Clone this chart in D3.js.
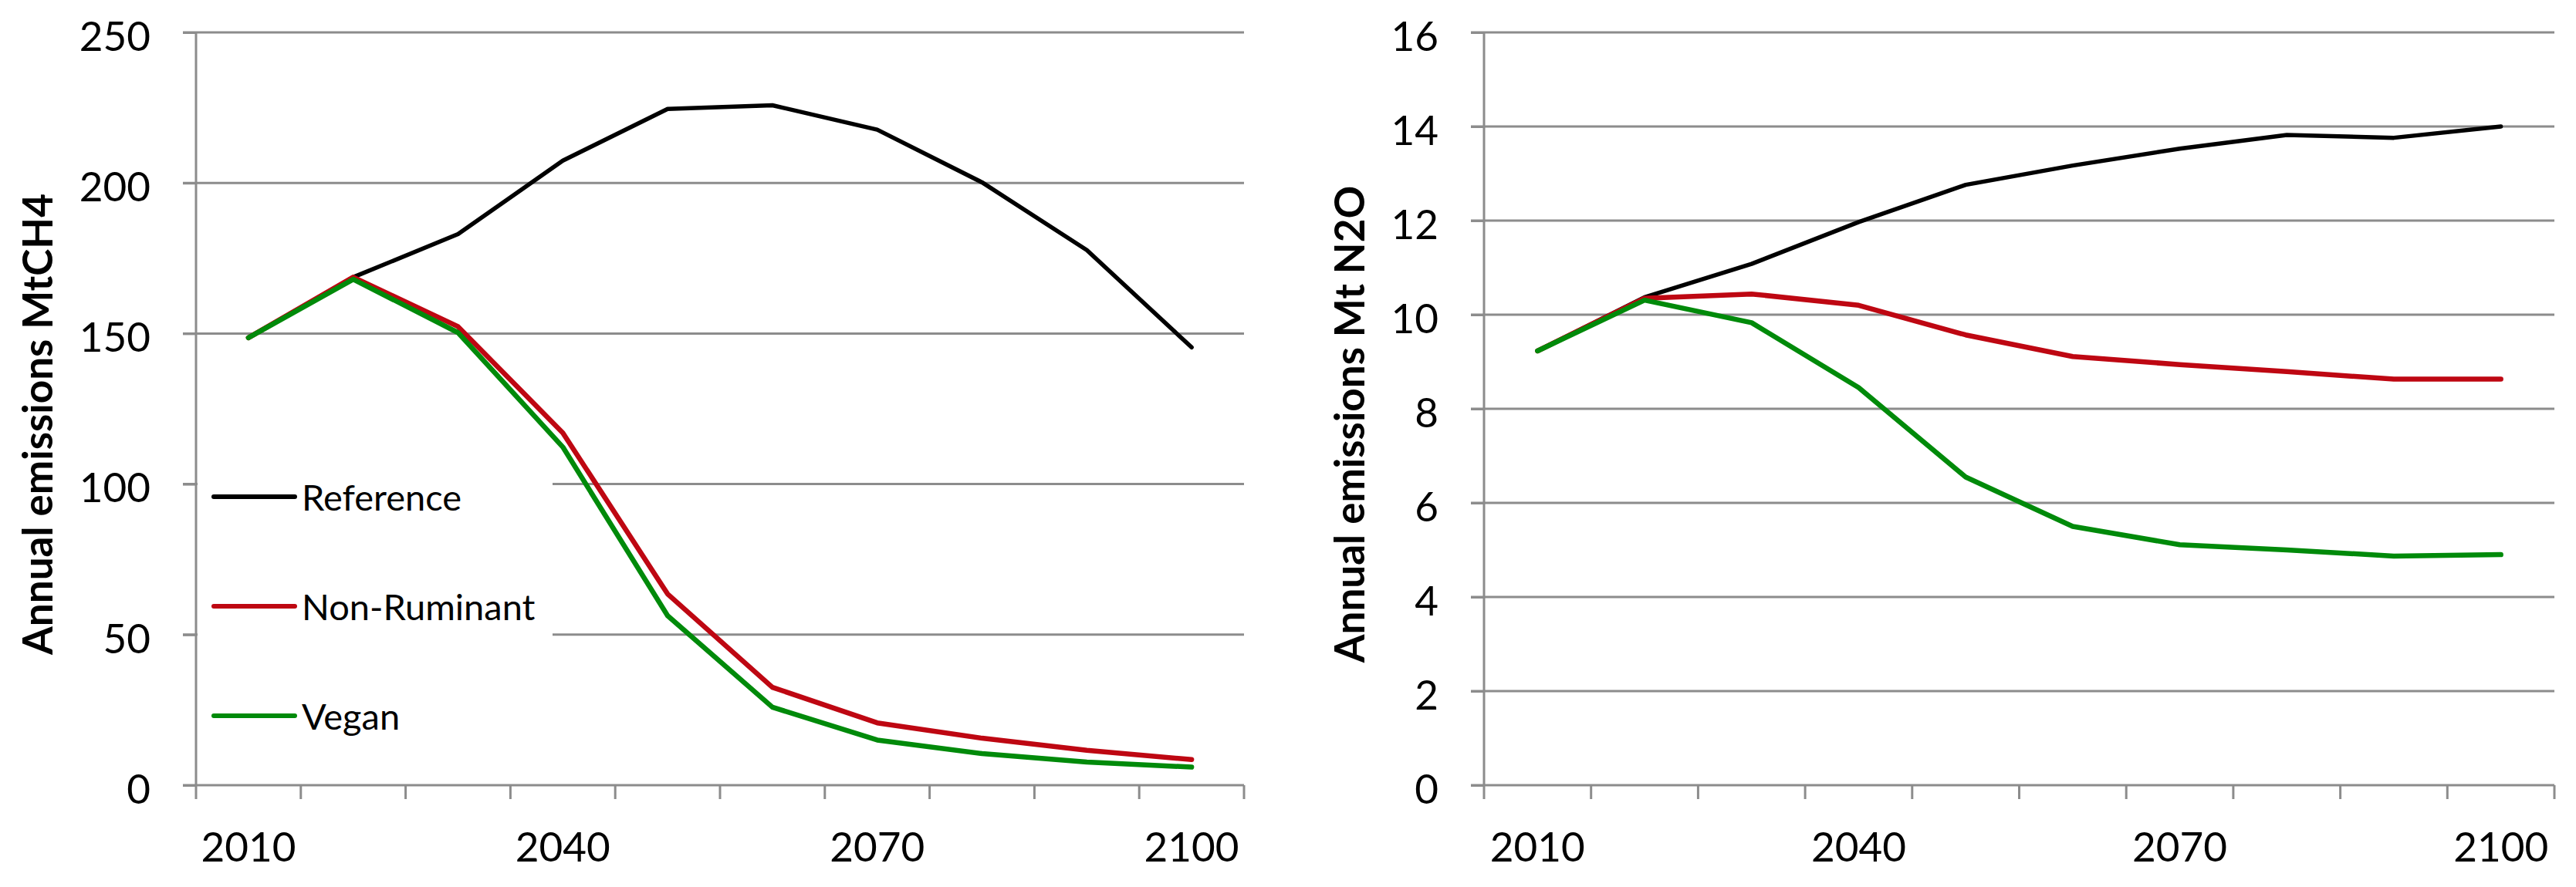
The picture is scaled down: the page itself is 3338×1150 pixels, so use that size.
<!DOCTYPE html>
<html>
<head>
<meta charset="utf-8">
<script src="https://cdn.jsdelivr.net/npm/d3@7"></script>
<style>
  body { margin: 0; background: #fff; }
  svg text { font-family: Lato, "Open Sans", sans-serif; fill: #000; }
  .domain { display: none; }
</style>
</head>
<body>
<div id="chart"></div>
<script>
var W = 3338,
    H = 1150;

// data
var years = [2010, 2020, 2030, 2040, 2050, 2060, 2070, 2080, 2090, 2100];
var yearLabels = [2010, 2040, 2070, 2100];
var seriesNames = ["Reference", "Non-Ruminant", "Vegan"];
var seriesColors = ["#000000", "#be0712", "#008a0a"];

var ch4Reference   = [148.6, 168.7, 183.0, 207.4, 224.6, 225.8, 217.7, 200.2, 177.7, 145.4];
var ch4NonRuminant = [148.6, 168.7, 152.3, 117.0, 63.5, 32.5, 20.7, 15.6, 11.6, 8.5];
var ch4Vegan       = [148.6, 168.0, 150.3, 112.3, 56.3, 25.9, 15.0, 10.5, 7.7, 6.0];
var ch4Ticks = [0, 50, 100, 150, 200, 250];

var n2oReference   = [9.23, 10.37, 11.08, 11.97, 12.76, 13.17, 13.53, 13.82, 13.76, 14.0];
var n2oNonRuminant = [9.23, 10.35, 10.44, 10.20, 9.57, 9.11, 8.94, 8.79, 8.63, 8.63];
var n2oVegan       = [9.23, 10.31, 9.83, 8.45, 6.55, 5.50, 5.11, 5.00, 4.87, 4.90];
var n2oTicks = [0, 2, 4, 6, 8, 10, 12, 14, 16];

var gridColor = "#8c8c8c";

var svg = d3.select("#chart")
    .append("svg")
    .attr("width", W)
    .attr("height", H);

function drawPanel(opt) {
    var g = svg.append("g");

    var x = d3.scaleBand().domain(years).range([opt.x0, opt.x1]).padding(0),
        y = d3.scaleLinear().domain([0, opt.max]).range([opt.y0, opt.y1]);

    // gridlines, running from the tick mark across the plot
    g.append("g").selectAll("line")
        .data(opt.ticks.filter(function (d) { return d > 0; }))
        .enter()
        .append("line")
        .attr("x1", opt.x0 - 17)
        .attr("x2", opt.x1)
        .attr("y1", function (d) { return y(d); })
        .attr("y2", function (d) { return y(d); })
        .style("stroke", gridColor)
        .style("stroke-width", 3);

    // white legend box hides the gridlines (left panel only)
    if (opt.legend) opt.legend(g);

    // y axis
    var yAxis = d3.axisLeft(y).tickValues(opt.ticks).tickSize(17).tickPadding(42);
    var ya = g.append("g")
        .attr("transform", "translate(" + opt.x0 + ",0)")
        .call(yAxis);
    ya.selectAll(".tick line").style("stroke", gridColor).style("stroke-width", 3);
    ya.selectAll(".tick text").attr("dy", "0.44em").style("font-size", "53px");
    g.append("line")
        .attr("x1", opt.x0).attr("x2", opt.x0)
        .attr("y1", opt.y1).attr("y2", opt.y0)
        .style("stroke", gridColor).style("stroke-width", 3);

    // x axis: baseline plus ticks at the band edges
    g.append("line")
        .attr("x1", opt.x0 - 17).attr("x2", opt.x1)
        .attr("y1", opt.y0).attr("y2", opt.y0)
        .style("stroke", gridColor).style("stroke-width", 3);
    g.append("g").selectAll("line")
        .data(years.concat(["end"]))
        .enter()
        .append("line")
        .attr("x1", function (d) { return d === "end" ? opt.x1 : x(d); })
        .attr("x2", function (d) { return d === "end" ? opt.x1 : x(d); })
        .attr("y1", opt.y0)
        .attr("y2", opt.y0 + 18)
        .style("stroke", gridColor)
        .style("stroke-width", 3);

    var xAxis = d3.axisBottom(x).tickValues(yearLabels).tickSize(0);
    var xa = g.append("g")
        .attr("transform", "translate(0," + opt.y0 + ")")
        .call(xAxis);
    xa.selectAll(".tick text").attr("y", 99).attr("dy", null).style("font-size", "53px");

    // axis title
    g.append("text")
        .attr("transform", "translate(" + opt.titleX + "," + opt.titleY + ") rotate(-90)")
        .attr("text-anchor", "middle")
        .style("font-size", "53px")
        .style("font-weight", "bold")
        .text(opt.title);

    // lines
    var line = d3.line()
        .x(function (d, i) { return x(years[i]) + x.bandwidth() / 2; })
        .y(function (d) { return y(d); });

    g.selectAll(".series")
        .data(opt.series)
        .enter()
        .append("path")
        .attr("class", "series")
        .attr("d", function (d) { return line(d); })
        .style("fill", "none")
        .style("stroke", function (d, i) { return seriesColors[i]; })
        .style("stroke-width", function (d, i) { return i === 0 ? 5.5 : 6.5; })
        .style("stroke-linejoin", "round")
        .style("stroke-linecap", "round");

    return g;
}

function drawLegend(g) {
    g.append("rect")
        .attr("x", 256)
        .attr("y", 560)
        .attr("width", 460)
        .attr("height", 440)
        .style("fill", "#fff");

    var ly = d3.scalePoint().domain(seriesNames).range([644, 928]);

    g.selectAll(".swatch")
        .data(seriesNames)
        .enter()
        .append("line")
        .attr("class", "swatch")
        .attr("x1", 277)
        .attr("x2", 382)
        .attr("y1", function (d) { return ly(d); })
        .attr("y2", function (d) { return ly(d); })
        .style("stroke", function (d, i) { return seriesColors[i]; })
        .style("stroke-width", 6)
        .style("stroke-linecap", "round");

    g.selectAll(".label")
        .data(seriesNames)
        .enter()
        .append("text")
        .attr("class", "label")
        .attr("x", 391)
        .attr("y", function (d) { return ly(d) + 18; })
        .style("font-size", "47px")
        .text(function (d) { return d; });
}

drawPanel({
    x0: 254, x1: 1612, y0: 1018, y1: 42, max: 250,
    ticks: ch4Ticks,
    series: [ch4Reference, ch4NonRuminant, ch4Vegan],
    title: "Annual emissions MtCH4",
    titleX: 68, titleY: 550,
    legend: drawLegend
});

drawPanel({
    x0: 1923, x1: 3310, y0: 1018, y1: 42, max: 16,
    ticks: n2oTicks,
    series: [n2oReference, n2oNonRuminant, n2oVegan],
    title: "Annual emissions Mt N2O",
    titleX: 1768, titleY: 550
});
</script>
</body>
</html>
